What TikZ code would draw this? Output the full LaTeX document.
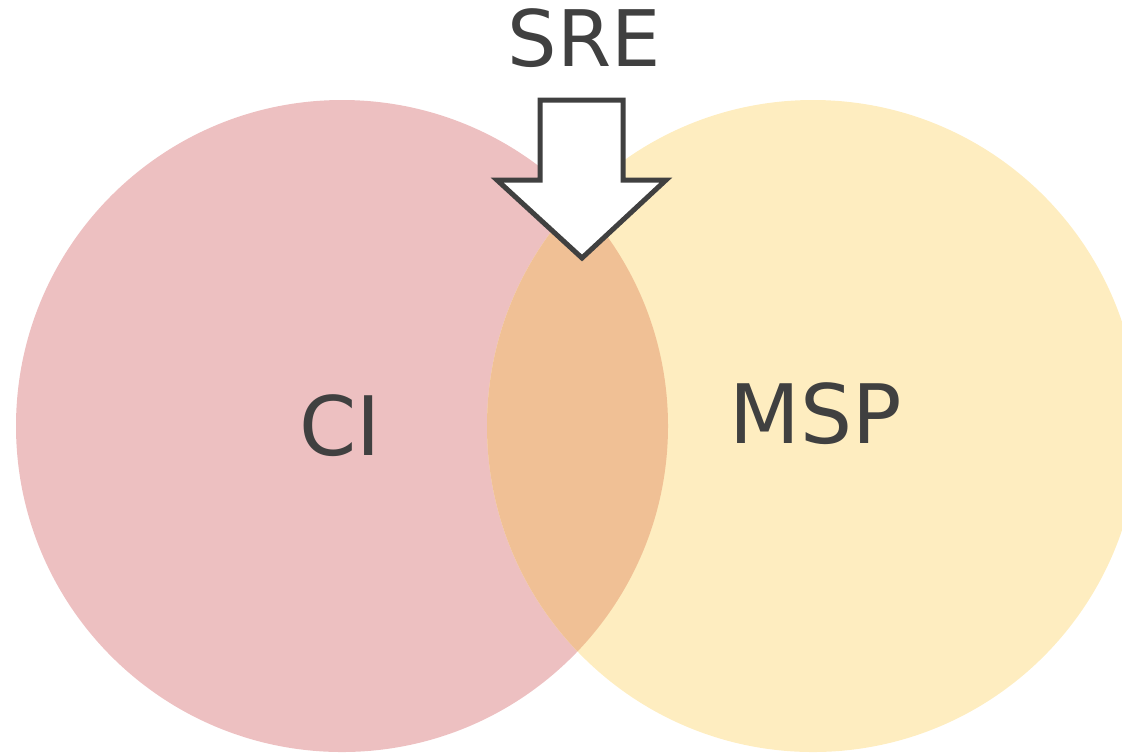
\documentclass[tikz,border=0pt]{standalone}
\usepackage{fontspec}
\setmainfont{DejaVu Sans}
\definecolor{ciPink}{HTML}{EDC0C1}
\definecolor{mspYellow}{HTML}{FEEDC0}
\definecolor{sreOrange}{HTML}{F0C095}
\definecolor{darkGray}{HTML}{404040}
\begin{document}
\begin{tikzpicture}[x = 0.5pt, y = -0.5pt,
                    label text/.style = {text = darkGray, inner sep = 0pt, font = \fontsize{41}{41}\selectfont},
                    outline/.style = {draw = darkGray, line width = 2.5pt, fill = white, line join = miter}]
  \useasboundingbox (0,0) rectangle (1122,752);

  \fill [ciPink] (342,426) circle [radius = 326];
  \fill [mspYellow] (813,426) circle [radius = 326];
  \begin{scope}
    \clip (342,426) circle [radius = 326];
    \fill [sreOrange] (813,426) circle [radius = 326];
  \end{scope}

  \node [label text] (CI) at (340,426) {CI};
  \node [label text] (MSP) at (816,414) {MSP};
  \node [label text, font = \fontsize{39}{39}\selectfont] (SRE) at (584,38) {SRE};

  \draw [outline] (540,100) -- (623,100) -- (623,180) -- (666,180)
                  -- (582,258) -- (497,180) -- (540,180) -- cycle;
\end{tikzpicture}
\end{document}
